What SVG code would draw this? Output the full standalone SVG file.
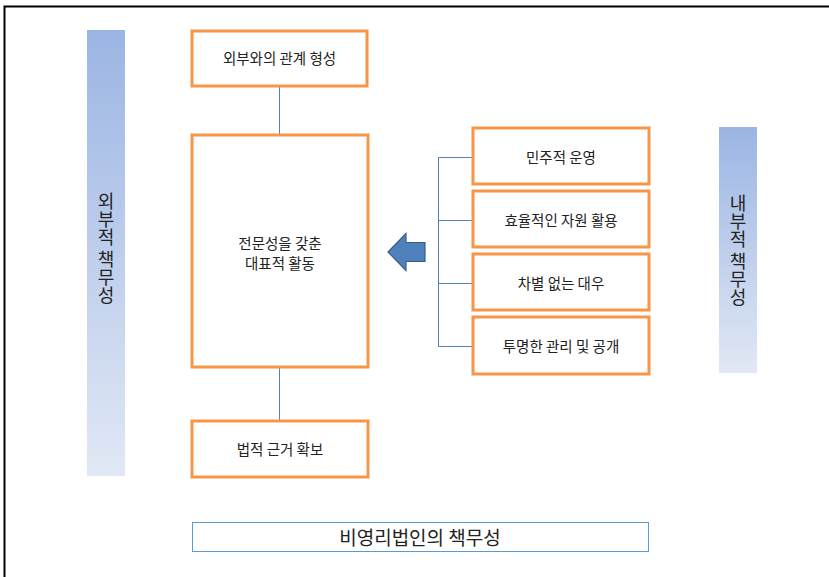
<svg xmlns="http://www.w3.org/2000/svg" width="829" height="577" viewBox="0 0 829 577">
<defs>
<linearGradient id="barGrad" x1="0" y1="0" x2="0" y2="1">
<stop offset="0" stop-color="#9bb5e3"/>
<stop offset="1" stop-color="#e1e8f5"/>
</linearGradient>
<style>
.box{fill:#ffffff;stroke:#f79646;stroke-width:3}
.lbl{font-family:"Noto Sans CJK KR","Noto Sans",sans-serif;font-size:14.5px;fill:#222;text-anchor:middle;dominant-baseline:central}
.vt{font-family:"Noto Sans CJK KR",sans-serif;font-size:18px;fill:#222;writing-mode:vertical-rl;text-anchor:middle}
.con{stroke:#4f81bd;stroke-width:1;fill:none}
</style>
</defs>
<rect x="0" y="0" width="829" height="577" fill="#ffffff"/>
<path d="M4.5 577 V6.5 H829" fill="none" stroke="#000" stroke-width="2"/>

<g id="outer-bar">
<rect x="87" y="30" width="38" height="446" fill="url(#barGrad)"/>
<text class="vt" x="106" y="248">외부적 책무성</text>
</g>
<g id="inner-bar">
<rect x="719" y="127" width="38" height="246" fill="url(#barGrad)"/>
<text class="vt" x="738" y="250">내부적 책무성</text>
</g>

<g id="connectors">
<line class="con" x1="279.5" y1="86" x2="279.5" y2="135"/>
<line class="con" x1="279.5" y1="367" x2="279.5" y2="421"/>
<path class="con" d="M473 157.5 H438.5 V346.5 H473 M438.5 220.5 H473 M438.5 283.5 H473"/>
</g>

<g id="arrow">
<path d="M388 252 L406 233.5 V242.5 H425 V261.5 H406 V270.5 Z" fill="#4f81bd" stroke="#385d8a" stroke-width="1.2"/>
</g>

<g id="n-external">
<rect class="box" x="192" y="31" width="175" height="55"/>
<text class="lbl" x="279.5" y="57">외부와의 관계 형성</text>
</g>
<g id="n-main">
<rect class="box" x="192" y="135" width="176" height="232"/>
<text class="lbl" x="280" y="242">전문성을 갖춘</text>
<text class="lbl" x="280" y="262">대표적 활동</text>
</g>
<g id="n-legal">
<rect class="box" x="192" y="421" width="176" height="56"/>
<text class="lbl" x="280" y="448">법적 근거 확보</text>
</g>
<g id="n-democratic">
<rect class="box" x="473" y="128" width="176" height="56"/>
<text class="lbl" x="561" y="156">민주적 운영</text>
</g>
<g id="n-efficient">
<rect class="box" x="473" y="191" width="176" height="56"/>
<text class="lbl" x="561" y="219">효율적인 자원 활용</text>
</g>
<g id="n-equal">
<rect class="box" x="473" y="254" width="176" height="56"/>
<text class="lbl" x="561" y="282">차별 없는 대우</text>
</g>
<g id="n-transparent">
<rect class="box" x="473" y="317" width="176" height="57"/>
<text class="lbl" x="561" y="345">투명한 관리 및 공개</text>
</g>

<g id="title">
<rect x="192.5" y="522.5" width="456" height="29" fill="#ffffff" stroke="#5b9bd5" stroke-width="1"/>
<text x="420" y="536" font-family="Noto Sans CJK KR, sans-serif" font-size="19" fill="#222" text-anchor="middle" dominant-baseline="central">비영리법인의 책무성</text>
</g>
</svg>
